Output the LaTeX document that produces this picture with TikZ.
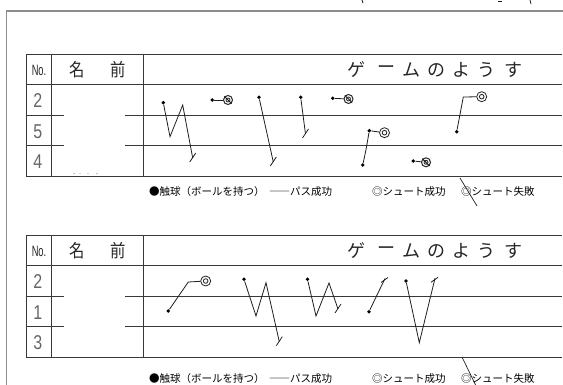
\documentclass[tikz,border=0pt]{standalone}
\usepackage{fontspec}
\setmainfont{Liberation Sans}
\newfontfamily\cjk{Noto Sans CJK JP}
\begin{document}
\begin{tikzpicture}[x=1pt,y=-1pt,
  grid/.style={draw=black!78, line width=0.9pt},
  frameline/.style={draw=black!45, line width=1.4pt},
  ink/.style={draw=black!88, line width=0.8pt},
  ball/.style={circle, fill=black, inner sep=0pt, minimum size=3.8pt},
  goal/.style={circle, draw=black!85, line width=0.8pt, inner sep=0pt, minimum size=10pt},
  missn/.style={circle, draw=black!85, line width=1pt, inner sep=0pt, minimum size=9pt},
  headtxt/.style={font=\cjk\fontsize{18}{18}\selectfont, text=black!85, inner sep=0pt},
  numtxt/.style={font=\fontsize{20}{20}\selectfont, text=black!60, inner sep=0pt, xscale=0.8},
  legtxt/.style={font=\cjk\fontsize{10.5}{10.5}\selectfont, text=black, inner sep=0pt, anchor=west}
]
\useasboundingbox (0,0) rectangle (563,385);
\fill[white] (0,0) rectangle (563,385);

% outer frame
\coordinate (f1) at (6.7,385);
\coordinate (f2) at (6.7,11);
\coordinate (f3) at (563,11);
\draw[frameline] (f1) -- (f2) -- (f3);

% fragments at top edge
\coordinate (s1a) at (362,0); \coordinate (s1b) at (363,3);
\coordinate (s2a) at (498,1); \coordinate (s2b) at (502,1);
\coordinate (s3a) at (530,0); \coordinate (s3b) at (531,4);
\draw[ink] (s1a) -- (s1b);
\draw[ink] (s2a) -- (s2b);
\draw[ink] (s3a) -- (s3b);

\newcommand\mytable[5]{%
\begin{scope}[yshift=-#1pt]
  \coordinate (#2a) at (26,54);   \coordinate (#2b) at (562,54);
  \coordinate (#2c) at (26,84.5); \coordinate (#2d) at (562,84.5);
  \coordinate (#2e) at (26,176);  \coordinate (#2f) at (562,176);
  \coordinate (#2g) at (51.7,54); \coordinate (#2h) at (51.7,176);
  \coordinate (#2i) at (143.3,54);\coordinate (#2j) at (143.3,176);
  \draw[grid] (#2a) -- (#2b);
  \draw[grid] (#2c) -- (#2d);
  \draw[grid] (#2e) -- (#2f);
  \draw[grid] (#2a) -- (#2e);
  \draw[grid] (#2g) -- (#2h);
  \draw[grid] (#2i) -- (#2j);
  \coordinate (#2k) at (26,115);  \coordinate (#2l) at (64,115);
  \coordinate (#2m) at (125,115); \coordinate (#2n) at (562,115);
  \coordinate (#2o) at (26,145.5);  \coordinate (#2p) at (64,145.5);
  \coordinate (#2q) at (125,145.5); \coordinate (#2r) at (562,145.5);
  \draw[grid] (#2k) -- (#2l);
  \draw[grid] (#2m) -- (#2n);
  \draw[grid] (#2o) -- (#2p);
  \draw[grid] (#2q) -- (#2r);
  \node[inner sep=0pt, font=\fontsize{15}{15}\selectfont, text=black!85, xscale=0.62] (#2no) at (39,70) {No.};
  \node[headtxt, xscale=0.85] (#2na) at (76.7,70) {名};
  \node[headtxt, xscale=0.85] (#2nb) at (118.3,70) {前};
  \node[headtxt] (#2t1) at (356.7,70) {ゲ};
  \node[headtxt] (#2t2) at (386.7,70) {ー};
  \node[headtxt] (#2t3) at (411.7,70) {ム};
  \node[headtxt] (#2t4) at (436.7,70) {の};
  \node[headtxt] (#2t5) at (461.7,70) {よ};
  \node[headtxt] (#2t6) at (486.7,70) {う};
  \node[headtxt] (#2t7) at (513.3,70) {す};
  \node[numtxt] (#2r1) at (37.7,101) {#3};
  \node[numtxt] (#2r2) at (37.7,131.5) {#4};
  \node[numtxt] (#2r3) at (37.7,162) {#5};
\end{scope}}

\mytable{0}{A}{2}{5}{4}
\mytable{181}{B}{2}{1}{3}

% legends
\node[legtxt] (la1) at (149,192) {●触球（ボールを持つ）};
\node[legtxt] (la2) at (269,192) {――パス成功};
\node[legtxt] (la3) at (372,192) {◎シュート成功};
\node[legtxt] (la4) at (461,192) {◎シュート失敗};
\coordinate (sla) at (460,178); \coordinate (slb) at (477,206);
\draw[ink, line width=0.7pt] (sla) -- (slb);

\node[legtxt] (lb1) at (149,379) {●触球（ボールを持つ）};
\node[legtxt] (lb2) at (269,379) {――パス成功};
\node[legtxt] (lb3) at (372,379) {◎シュート成功};
\node[legtxt] (lb4) at (461,379) {◎シュート失敗};
\coordinate (slc) at (462,357); \coordinate (sld) at (479,392);
\draw[ink, line width=0.7pt] (slc) -- (sld);

% smudge in name column
\fill[black!45] (74,173.5) circle (0.6) (80,173.5) circle (0.5) (88,173.5) circle (0.5) (97,173.5) circle (0.6);

% ---------- table 1 plays ----------
% F1
\node[ball] (p1) at (163.3,102.7) {};
\coordinate (p1b) at (170,136.7);
\coordinate (p1c) at (182.7,105);
\coordinate (p1d) at (192.7,158);
\draw[ink] (p1) -- (p1b) -- (p1c) -- (p1d);
\draw[ink] ([shift={(-3,4)}]p1d) -- ([shift={(3,-5)}]p1d);
% F2
\node[ball] (p2) at (212.3,100) {};
\node[missn] (m2) at (228,100) {};
\draw[ink] (p2) -- (m2);
\draw[ink] (m2.center) circle (2pt);
\draw[ink, line width=1pt] (m2.north west) -- (m2.south east);
% F3
\node[ball] (p3) at (259,97.3) {};
\coordinate (p3b) at (273.3,162);
\draw[ink] (p3) -- (p3b);
\draw[ink] ([shift={(-3,4)}]p3b) -- ([shift={(3,-5)}]p3b);
% F4
\node[ball] (p4) at (300.7,97.3) {};
\coordinate (p4b) at (305.5,134);
\draw[ink] (p4) -- (p4b);
\draw[ink] ([shift={(-3,4)}]p4b) -- ([shift={(3,-5)}]p4b);
% F5
\node[ball] (p5) at (332.7,98.3) {};
\node[missn] (m5) at (348.5,99) {};
\draw[ink] (p5) -- (m5);
\draw[ink] (m5.center) circle (2pt);
\draw[ink, line width=1pt] (m5.north west) -- (m5.south east);
% F6
\node[ball] (p6) at (362.7,165) {};
\node[ball] (p6b) at (369.3,130.7) {};
\node[goal] (g6) at (384.5,132.7) {};
\draw[ink] (p6) .. controls (366,150) .. (p6b);
\draw[ink] (p6b) -- (g6);
\draw[ink] (g6.center) circle (2.3pt);
% F7
\node[ball] (p7) at (413.3,161) {};
\node[missn] (m7) at (426,162.3) {};
\draw[ink] (p7) -- (m7);
\draw[ink] (m7.center) circle (2pt);
\draw[ink, line width=1pt] (m7.north west) -- (m7.south east);
% F8
\node[ball] (p8) at (456.7,131.7) {};
\coordinate (p8b) at (463.3,97);
\node[goal] (g8) at (481.7,96.7) {};
\draw[ink] (p8) -- (p8b) -- (g8);
\draw[ink] (g8.center) circle (2.3pt);

% ---------- table 2 plays ----------
% FA
\node[ball] (q1) at (168.3,311) {};
\coordinate (q1b) at (188.3,282);
\node[goal] (gq1) at (205.7,281) {};
\draw[ink] (q1) -- (q1b) -- (gq1);
\draw[ink] (gq1.center) circle (2.3pt);
% FB
\node[ball] (q2) at (244,279.3) {};
\coordinate (q2b) at (256,316);
\coordinate (q2c) at (266,282.7);
\coordinate (q2d) at (279.3,341.7);
\draw[ink] (q2) -- (q2b) -- (q2c) -- (q2d);
\draw[ink] ([shift={(-3,4)}]q2d) -- ([shift={(3,-5)}]q2d);
% FC
\node[ball] (q3) at (307.5,279.3) {};
\coordinate (q3b) at (316,316);
\coordinate (q3c) at (329,283);
\coordinate (q3d) at (338,309);
\draw[ink] (q3) -- (q3b) -- (q3c) -- (q3d);
\draw[ink] ([shift={(-3,4)}]q3d) -- ([shift={(3,-5)}]q3d);
% FD
\node[ball] (q4) at (369,311.7) {};
\coordinate (q4b) at (385,278.5);
\draw[ink] (q4) -- (q4b);
\draw[ink] ([shift={(-4,4)}]q4b) -- ([shift={(3,-1)}]q4b);
% FE
\node[ball] (q5) at (406,281) {};
\coordinate (q5b) at (419.3,342.7);
\coordinate (q5c) at (435,278.3);
\draw[ink] (q5) -- (q5b) -- (q5c);
\draw[ink] ([shift={(-4,4)}]q5c) -- ([shift={(3,-1)}]q5c);
\end{tikzpicture}
\end{document}
